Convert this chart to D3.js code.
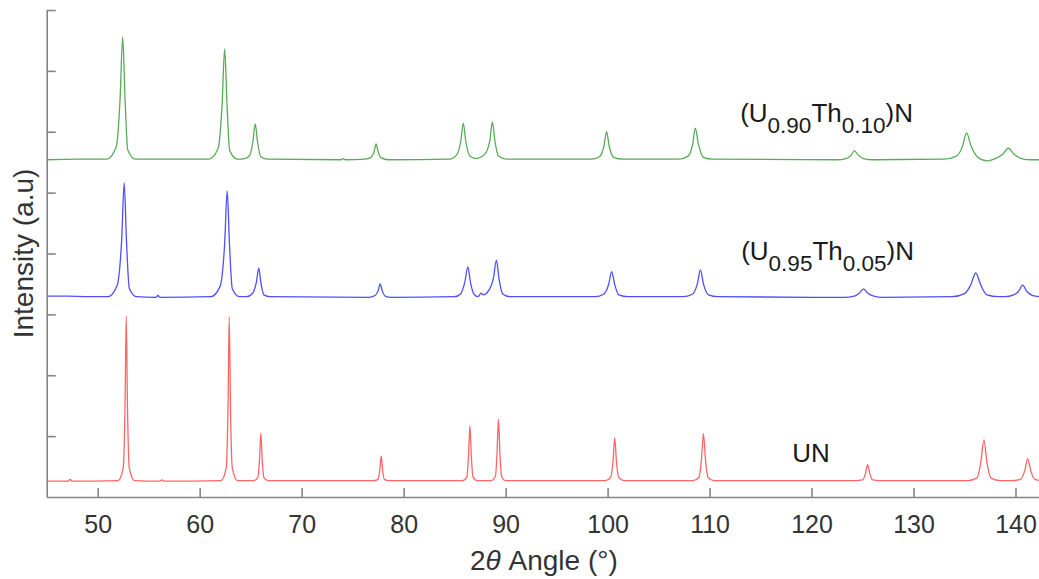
<!DOCTYPE html>
<html>
<head>
<meta charset="utf-8">
<script src="https://cdn.jsdelivr.net/npm/d3@7"></script>
<style>
    body { margin: 0; background: #fff; }
    svg { display: block; font-family: "Liberation Sans", Arial, sans-serif; }
</style>
</head>
<body>
<svg id="SVGxrd" width="1039" height="579"></svg>
<script>
"use strict";

// vertices: [2theta, intensity (a.u., offset included)]
const unPattern = [
    [45, 0.26], [47.1, 0.26], [47.3, 0.29], [47.5, 0.26],
    [52.0, 0.27], [52.5, 0.48], [52.68, 1.48], [52.8, 2.97], [52.92, 1.48], [53.1, 0.48], [53.6, 0.27],
    [56.1, 0.26], [56.3, 0.28], [56.5, 0.26],
    [62.1, 0.27], [62.6, 0.48], [62.78, 1.48], [62.9, 2.96], [63.02, 1.48], [63.2, 0.48], [63.7, 0.27],
    [65.3, 0.27], [65.7, 0.32], [65.87, 0.62], [66.0, 1.05], [66.13, 0.62], [66.3, 0.32], [66.7, 0.27],
    [77.1, 0.27], [77.5, 0.29], [77.66, 0.44], [77.8, 0.67], [77.94, 0.44], [78.1, 0.29], [78.5, 0.27],
    [85.8, 0.27], [86.2, 0.33], [86.36, 0.67], [86.5, 1.17], [86.64, 0.67], [86.8, 0.33], [87.2, 0.27],
    [88.6, 0.27], [89.0, 0.34], [89.16, 0.72], [89.3, 1.28], [89.44, 0.72], [89.6, 0.34], [90.0, 0.27],
    [99.8, 0.27], [100.3, 0.32], [100.53, 0.58], [100.7, 0.97], [100.87, 0.58], [101.1, 0.32], [101.6, 0.27],
    [108.4, 0.27], [108.95, 0.32], [109.2, 0.61], [109.4, 1.04], [109.6, 0.61], [109.85, 0.32], [110.4, 0.27],
    [124.3, 0.27], [125.0, 0.28], [125.28, 0.38], [125.5, 0.53], [125.72, 0.38], [126.0, 0.28], [126.7, 0.27],
    [135.3, 0.27], [136.2, 0.31], [136.6, 0.57], [136.9, 0.94], [137.2, 0.57], [137.6, 0.31], [138.5, 0.27],
    [139.7, 0.27], [140.5, 0.29], [140.9, 0.43], [141.2, 0.63], [141.5, 0.43], [141.9, 0.29], [142.5, 0.27]
];

const th05Pattern = [
    [45, 3.30], [47, 3.30], [49, 3.29],
    [51.0, 3.29], [51.9, 3.47], [52.35, 4.22], [52.6, 5.16], [52.82, 4.22], [53.1, 3.43], [53.8, 3.29],
    [55.7, 3.28], [55.9, 3.31], [56.1, 3.28],
    [61.1, 3.29], [62.0, 3.46], [62.45, 4.16], [62.7, 5.03], [62.92, 4.16], [63.2, 3.42], [63.9, 3.29],
    [64.6, 3.29], [65.2, 3.35], [65.55, 3.52], [65.8, 3.76], [66.0, 3.52], [66.3, 3.32], [66.9, 3.29],
    [76.6, 3.28], [77.2, 3.31], [77.5, 3.39], [77.7, 3.50], [77.9, 3.39], [78.2, 3.30], [78.8, 3.28],
    [85.0, 3.29], [85.6, 3.34], [86.0, 3.53], [86.3, 3.78], [86.55, 3.53], [86.9, 3.33],
    [87.3, 3.29], [87.6, 3.35], [87.8, 3.32],
    [88.2, 3.36], [88.8, 3.59], [89.1, 3.89], [89.35, 3.59], [89.7, 3.34], [90.4, 3.29],
    [98.8, 3.29], [99.6, 3.33], [100.1, 3.49], [100.4, 3.70], [100.7, 3.49], [101.1, 3.32], [102.0, 3.29],
    [107.4, 3.29], [108.3, 3.33], [108.8, 3.50], [109.1, 3.73], [109.4, 3.50], [109.9, 3.32], [110.8, 3.29],
    [123.2, 3.28], [124.2, 3.30], [124.7, 3.35], [125.1, 3.42], [125.5, 3.35], [126.1, 3.30], [127.0, 3.28],
    [133.8, 3.29], [135.0, 3.34], [135.6, 3.48], [136.1, 3.68], [136.6, 3.48], [137.2, 3.32], [138.3, 3.29],
    [139.0, 3.29], [139.8, 3.32], [140.3, 3.38], [140.7, 3.48], [141.1, 3.38], [141.7, 3.31], [142.5, 3.29]
];

const th10Pattern = [
    [45, 5.54], [48, 5.55],
    [50.9, 5.55], [51.8, 5.74], [52.2, 6.55], [52.45, 7.56], [52.68, 6.55], [52.95, 5.70], [53.7, 5.55],
    [60.9, 5.55], [61.8, 5.72], [62.2, 6.45], [62.45, 7.36], [62.68, 6.45], [62.95, 5.69], [63.7, 5.55],
    [64.4, 5.56], [64.9, 5.61], [65.22, 5.84], [65.45, 6.13], [65.67, 5.84], [66.0, 5.59], [66.7, 5.55],
    [73.9, 5.54], [74.1, 5.56], [74.3, 5.54],
    [76.2, 5.55], [76.8, 5.58], [77.1, 5.67], [77.3, 5.80], [77.5, 5.67], [77.8, 5.57], [78.5, 5.54],
    [84.5, 5.55], [85.2, 5.62], [85.6, 5.84], [85.85, 6.14], [86.1, 5.84], [86.5, 5.60],
    [87.1, 5.56],
    [87.9, 5.62], [88.45, 5.85], [88.7, 6.16], [88.95, 5.85], [89.3, 5.60], [90.1, 5.55],
    [98.4, 5.55], [99.2, 5.59], [99.65, 5.77], [99.9, 6.00], [100.15, 5.77], [100.6, 5.58], [101.5, 5.55],
    [107.0, 5.55], [107.9, 5.60], [108.35, 5.80], [108.6, 6.06], [108.9, 5.80], [109.4, 5.58], [110.3, 5.55],
    [122.5, 5.54], [123.4, 5.56], [123.9, 5.62], [124.2, 5.69], [124.55, 5.62], [125.1, 5.56], [126.0, 5.54],
    [133.0, 5.55], [134.2, 5.60], [134.8, 5.76], [135.2, 5.98], [135.65, 5.76], [136.3, 5.58], [137.2, 5.52],
    [138.0, 5.56], [138.8, 5.64], [139.3, 5.73], [139.8, 5.64], [140.6, 5.56], [141.5, 5.54], [142.5, 5.54]
];

const seriesNames = ["UN", "(U0.95Th0.05)N", "(U0.90Th0.10)N"];
const seriesColors = ["#ff4a4a", "#3030ff", "#3a9c3a"];
const xTicks = [50, 60, 70, 80, 90, 100, 110, 120, 130, 140];
const yTicks = [1, 2, 3, 4, 5, 6, 7, 8];

// label parts: [text, isSubscript], anchored at [2theta, a.u.]
const labels = [
    { at: [118.1, 0.575], parts: [["UN", false]] },
    { at: [113.1, 3.89], parts: [["(U", false], ["0.95", true], ["Th", false], ["0.05", true], [")N", false]] },
    { at: [113.0, 6.16], parts: [["(U", false], ["0.90", true], ["Th", false], ["0.10", true], [")N", false]] }
];

const chart = {
    SVG: d3.select("#SVGxrd"),
    render: () => {
        const svg = chart.SVG;
        const x = d3.scaleLinear().domain([45, 142.5]).range([46.7, 1041]);
        const y = d3.scaleLinear().domain([0, 8]).range([497, 10]);

        // traces
        const line = d3.line()
            .x(d => x(d[0]))
            .y(d => y(d[1]))
            .curve(d3.curveMonotoneX);
        svg.selectAll(".trace")
            .data([unPattern, th05Pattern, th10Pattern])
            .enter()
            .append("path")
            .attr("class", "trace")
            .attr("d", d => line(d))
            .style("fill", "none")
            .style("stroke", (d, i) => seriesColors[i])
            .style("stroke-width", 1.3)
            .style("stroke-opacity", 0.85);

        // axes, ticks point inward
        const xAxis = svg.append("g")
            .attr("transform", "translate(0," + y(0) + ")")
            .call(d3.axisBottom(x).tickValues(xTicks).tickSizeInner(-9).tickSizeOuter(0).tickPadding(18));
        const yAxis = svg.append("g")
            .attr("transform", "translate(" + x(45) + ",0)")
            .call(d3.axisLeft(y).tickValues(yTicks).tickSizeInner(-9).tickSizeOuter(0).tickFormat(""));
        [xAxis, yAxis].forEach(ax => {
            ax.select(".domain").style("stroke", "#858585").style("stroke-width", 1.6);
            ax.selectAll(".tick line").style("stroke", "#858585").style("stroke-width", 1.6);
        });
        xAxis.selectAll(".tick text")
            .style("font-size", "25px")
            .style("font-family", "'Liberation Sans', Arial, sans-serif")
            .style("fill", "#333");

        // axis titles
        const xTitle = svg.append("text")
            .attr("x", (x(45) + x(142.5)) / 2)
            .attr("y", 570)
            .attr("text-anchor", "middle")
            .style("font-size", "28px")
            .style("fill", "#333");
        xTitle.append("tspan").text("2");
        xTitle.append("tspan").style("font-style", "italic").text("\u03B8");
        xTitle.append("tspan").text(" Angle (\u00B0)");

        svg.append("text")
            .attr("transform", "translate(33," + (y(0) + y(8)) / 2 + ") rotate(-90)")
            .attr("text-anchor", "middle")
            .style("font-size", "28px")
            .style("fill", "#333")
            .text("Intensity (a.u)");

        // series labels with subscripts
        labels.forEach(lab => {
            const t = svg.append("text")
                .attr("x", x(lab.at[0]))
                .attr("y", y(lab.at[1]))
                .style("font-size", "26px")
                .style("fill", "#1a1a1a");
            let sub = false;
            lab.parts.forEach(p => {
                const dy = p[1] === sub ? 0 : (p[1] ? 11 : -11);
                t.append("tspan")
                    .attr("dy", dy)
                    .style("font-size", p[1] ? "22.5px" : "26px")
                    .text(p[0]);
                sub = p[1];
            });
        });
    }
};

chart.render();
</script>
</body>
</html>
